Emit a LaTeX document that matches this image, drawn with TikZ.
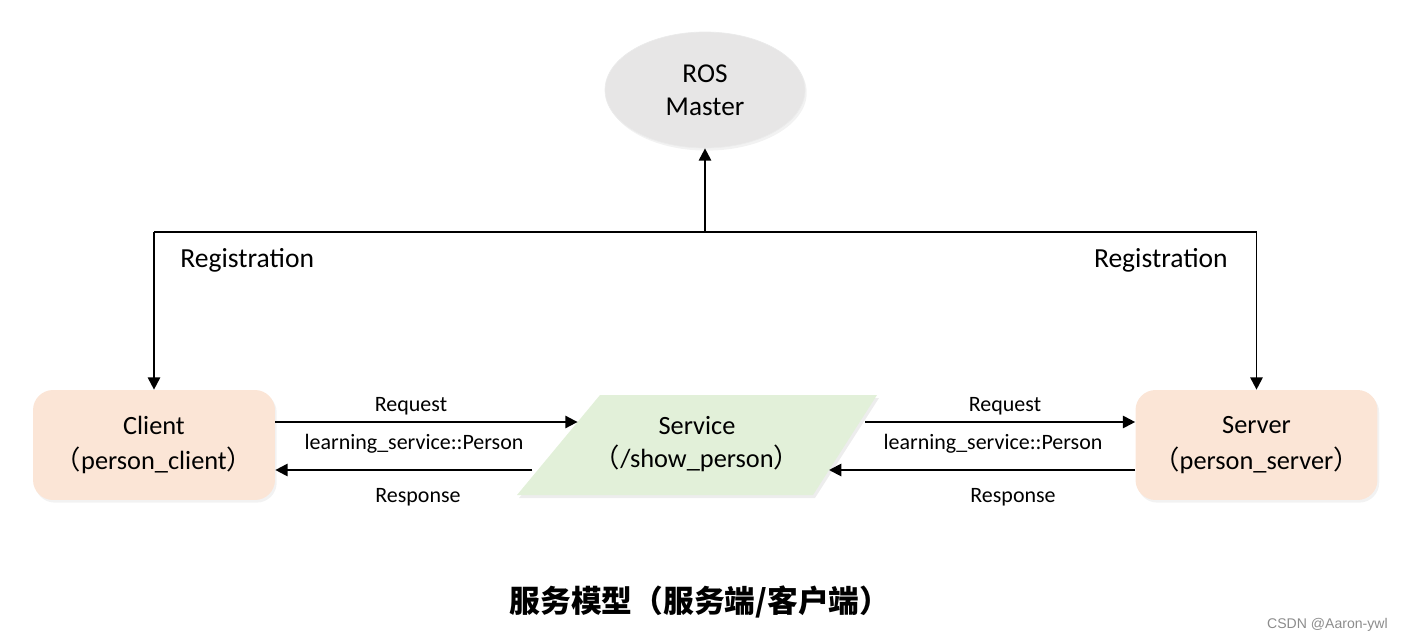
\documentclass[tikz,border=0pt]{standalone}
\usepackage{fontspec}
\setmainfont{Carlito}
\newfontfamily\cjk{Noto Sans CJK SC}
\newfontfamily\wmfont{Liberation Sans}
\usepackage{xcolor}
\usetikzlibrary{shapes,arrows.meta,positioning,calc,shadows}
\definecolor{mastergray}{HTML}{E7E6E6}
\definecolor{boxpeach}{HTML}{FBE5D6}
\definecolor{servgreen}{HTML}{E2F0D9}
\tikzstyle{master} = [ellipse, fill=mastergray, draw=black!8, minimum width=4cm, minimum height=2.32cm, inner sep=0pt, align=center, font=\fontsize{15.5}{18.7}\selectfont, drop shadow={opacity=0.1, shadow xshift=1pt, shadow yshift=-1.5pt}]
\tikzstyle{block} = [rectangle, fill=boxpeach, rounded corners=0.4cm, minimum width=4.84cm, minimum height=2.2cm, align=center, font=\fontsize{15}{20.4}\selectfont, drop shadow={opacity=0.1, shadow xshift=1pt, shadow yshift=-1.5pt}]
\tikzstyle{servtext} = [align=center, inner sep=0pt, font=\fontsize{15}{18.7}\selectfont]
\tikzstyle{line} = [draw, line width=1.1pt, -{Triangle[length=7pt,width=7pt]}]
\tikzstyle{lbl} = [font=\fontsize{12.5}{15}\selectfont, inner sep=0pt]
\tikzstyle{reg} = [font=\fontsize{15.7}{19}\selectfont, inner sep=0pt]

\begin{document}
\begin{tikzpicture}[x=0.02cm, y=-0.02cm]
\useasboundingbox (0,0) rectangle (1402,642);
\node [master] (master) at (705,90) {ROS\\Master};
\node [block] (client) at (154,445) {Client\\{\cjk （}person\_client{\cjk ）}};
\node [block] (server) at (1256.5,445) {Server\\{\cjk （}person\_server{\cjk ）}};
\coordinate (stl) at (600,395);
\coordinate (str) at (877,395);
\coordinate (sbr) at (813,495);
\coordinate (sbl) at (517,495);
\fill [black, opacity=0.07] ([shift={(2,3)}]stl) -- ([shift={(2,3)}]str) -- ([shift={(2,3)}]sbr) -- ([shift={(2,3)}]sbl) -- cycle;
\fill [servgreen] (stl) -- (str) -- (sbr) -- (sbl) -- cycle;
\node [servtext] (service) at (697,444) {Service\\{\cjk （}/show\_person{\cjk ）}};
\coordinate (hub) at (705,232);
\coordinate (lreq) at ($(stl)!0.27!(sbl)$);
\coordinate (lresp) at ($(stl)!0.75!(sbl)$);
\coordinate (rreq) at ($(str)!0.27!(sbr)$);
\coordinate (rresp) at ($(str)!0.75!(sbr)$);
\path [line] (hub) -- (master);
\draw [line width=1.1pt] (client.north |- hub) -- (server.north |- hub);
\path [line] (client.north |- hub) -- (client.north);
\path [line] (server.north |- hub) -- (server.north);
\node [reg, anchor=west] (regl) at (180,260) {Registration};
\node [reg, anchor=east] (regr) at (1228,260) {Registration};
\path [line] (client.east |- lreq) -- (lreq);
\path [line] ([xshift=-3pt]lresp) -- (client.east |- lresp);
\path [line] ([xshift=3pt]rreq) -- (server.west |- rreq);
\path [line] (server.west |- rresp) -- (rresp);
\node [lbl] (lreqlbl) at (411,406) {Request};
\node [lbl] (ltypelbl) at (414,444) {learning\_service::Person};
\node [lbl] (lresplbl) at (418,497) {Response};
\node [lbl] (rreqlbl) at (1005,406) {Request};
\node [lbl] (rtypelbl) at (993,444) {learning\_service::Person};
\node [lbl] (rresplbl) at (1013,497) {Response};
\node [font=\cjk\bfseries\fontsize{17.5}{21}\selectfont] (title) at (700,602) {服务模型（服务端/客户端）};
\node [font=\wmfont\fontsize{8}{10}\selectfont, text=black!45, anchor=east, inner sep=0pt] (wm) at (1388,625) {CSDN @Aaron-ywl};
\end{tikzpicture}
\end{document}
